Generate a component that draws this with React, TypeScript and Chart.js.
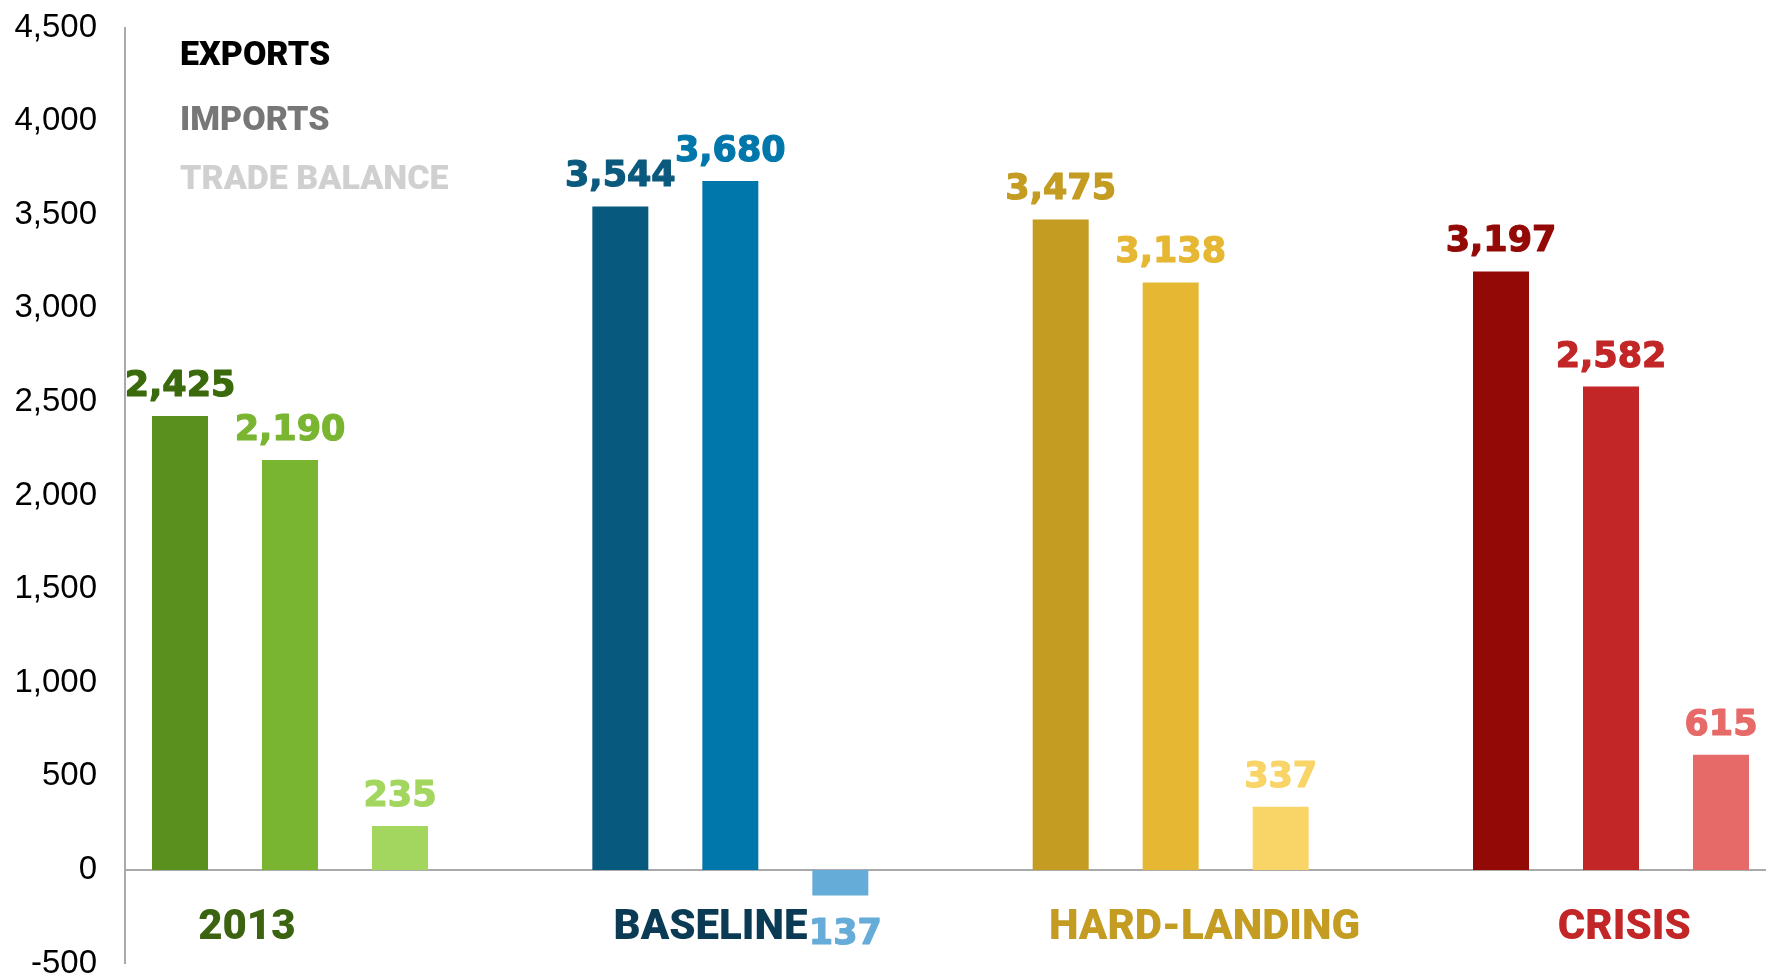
import React, { useEffect, useRef } from 'react';
import { Chart, registerables } from 'chart.js';

Chart.register(...registerables);

// ---- data ----
const CATEGORIES = ['2013', 'BASELINE', 'HARD-LANDING', 'CRISIS'];
const SERIES_NAMES = ['EXPORTS', 'IMPORTS', 'TRADE BALANCE'];
const EXPORTS = [2425, 3544, 3475, 3197];
const IMPORTS = [2190, 3680, 3138, 2582];
const TRADE_BALANCE = [235, -137, 337, 615];
const Y_MIN = -500;
const Y_MAX = 4500;
const Y_STEP = 500;

// ---- styles ----
const EXPORT_COLORS = ['#5a901e', '#075a7e', '#c49c22', '#930906'];
const IMPORT_COLORS = ['#79b531', '#0077ab', '#e6b733', '#c22626'];
const BALANCE_COLORS = ['#a3d65f', '#66acd8', '#f9d467', '#e66a68'];
const EXPORT_LABEL_COLORS = ['#3a6a0c', '#0b5a7e', '#c49c22', '#930906'];
const CATEGORY_LABEL_COLORS = ['#3b6310', '#0b3a55', '#c49c22', '#c22626'];
const LEGEND_COLORS = ['#000000', '#777777', '#d0d0d0'];
const LEGEND_ROW_OFFSETS = [29, 94, 153];
// horizontal nudge of each category caption, in category units
const CATEGORY_LABEL_SHIFT = [-0.098, -0.045, 0.077, 0.03];

const X_MIN = -0.3747;
const X_MAX = 3.352;

const toPoints = (arr: number[]) => arr.map((y, i) => ({ x: i, y }));
const fmt = (v: number) => Math.abs(v).toLocaleString('en-US');

const valueLabelPlugin = {
  id: 'valueLabels',
  afterDatasetsDraw(chart: any) {
    const ctx = chart.ctx;
    ctx.save();
    ctx.font = 'bold 35px "DejaVu Sans"';
    ctx.textAlign = 'center';
    ctx.textBaseline = 'alphabetic';
    ctx.lineJoin = 'round';
    ctx.lineWidth = 1.2;
    chart.data.datasets.forEach((ds: any, di: number) => {
      const meta = chart.getDatasetMeta(di);
      meta.data.forEach((bar: any, i: number) => {
        const v = ds.data[i].y;
        ctx.fillStyle = ds.valueColors[i];
        ctx.strokeStyle = ds.valueColors[i];
        const x = v >= 0 ? bar.x : bar.x + 5;
        const y = v >= 0 ? bar.y - 20 : bar.y + 22 + 26;
        ctx.fillText(fmt(v), x, y);
        ctx.strokeText(fmt(v), x, y);
      });
    });
    ctx.restore();
  },
};

const legendPlugin = {
  id: 'textLegend',
  afterDraw(chart: any) {
    const ctx = chart.ctx;
    const area = chart.chartArea;
    ctx.save();
    ctx.font = '900 34px Roboto';
    ctx.textAlign = 'left';
    ctx.textBaseline = 'middle';
    chart.data.datasets.forEach((ds: any, i: number) => {
      ctx.fillStyle = LEGEND_COLORS[i];
      ctx.fillText(ds.label, area.left + 55, area.top + LEGEND_ROW_OFFSETS[i]);
    });
    ctx.restore();
  },
};

export default function App() {
  const ref = useRef<HTMLCanvasElement>(null);

  useEffect(() => {
    if (!ref.current) return;
    const chart = new Chart(ref.current, {
      type: 'bar',
      data: {
        datasets: [
          {
            label: SERIES_NAMES[0],
            data: toPoints(EXPORTS),
            backgroundColor: EXPORT_COLORS,
            valueColors: EXPORT_LABEL_COLORS,
          } as any,
          {
            label: SERIES_NAMES[1],
            data: toPoints(IMPORTS),
            backgroundColor: IMPORT_COLORS,
            valueColors: IMPORT_COLORS,
          } as any,
          {
            label: SERIES_NAMES[2],
            data: toPoints(TRADE_BALANCE),
            backgroundColor: BALANCE_COLORS,
            valueColors: BALANCE_COLORS,
          } as any,
        ],
      },
      options: {
        animation: false,
        responsive: true,
        maintainAspectRatio: false,
        layout: { padding: { top: 27.5, bottom: 10.5, left: 0, right: 0 } },
        datasets: {
          bar: { categoryPercentage: 0.7494, barPercentage: 0.509 },
        },
        plugins: {
          legend: { display: false },
          tooltip: { enabled: false },
        },
        scales: {
          x: {
            type: 'linear',
            position: { y: 0 } as any,
            min: X_MIN,
            max: X_MAX,
            offset: false,
            afterBuildTicks: (s: any) => {
              s.ticks = CATEGORIES.map((_, i) => ({ value: i }));
            },
            afterFit: (s: any) => {
              s.paddingLeft = 0;
              s.paddingRight = 0;
            },
            grid: { display: false, drawTicks: false },
            border: { display: true, color: '#aaaaaa', width: 2 },
            ticks: { display: false },
          },
          xLabels: {
            type: 'linear',
            axis: 'x',
            position: { y: 0 } as any,
            min: X_MIN,
            max: X_MAX,
            offset: false,
            afterBuildTicks: (s: any) => {
              s.ticks = CATEGORIES.map((_, i) => ({ value: i + CATEGORY_LABEL_SHIFT[i] }));
            },
            afterFit: (s: any) => {
              s.paddingLeft = 0;
              s.paddingRight = 0;
            },
            grid: { display: false, drawTicks: false },
            border: { display: false },
            ticks: {
              autoSkip: false,
              maxRotation: 0,
              padding: 38,
              callback: (_v: any, i: number) => CATEGORIES[i] ?? '',
              color: (c: any) => CATEGORY_LABEL_COLORS[c.index] ?? '#000',
              font: { family: 'Roboto', size: 42, weight: '900', lineHeight: 1 },
            },
          },
          y: {
            min: Y_MIN,
            max: Y_MAX,
            afterFit: (s: any) => {
              s.width = 125;
              s.paddingTop = 0;
              s.paddingBottom = 0;
            },
            grid: { display: false, drawTicks: false },
            border: { display: true, color: '#aaaaaa', width: 2 },
            ticks: {
              stepSize: Y_STEP,
              padding: 28,
              color: '#000000',
              callback: (v: any) => Number(v).toLocaleString('en-US'),
              font: { family: '"Liberation Sans", Arial, sans-serif', size: 33, lineHeight: 1 },
            },
          },
        },
      } as any,
      plugins: [valueLabelPlugin, legendPlugin],
    });
    return () => chart.destroy();
  }, []);

  return (
    <div style={{ position: 'fixed', left: 0, top: 0, width: '1766px', height: '974px', background: '#fff' }}>
      <canvas ref={ref} />
    </div>
  );
}
